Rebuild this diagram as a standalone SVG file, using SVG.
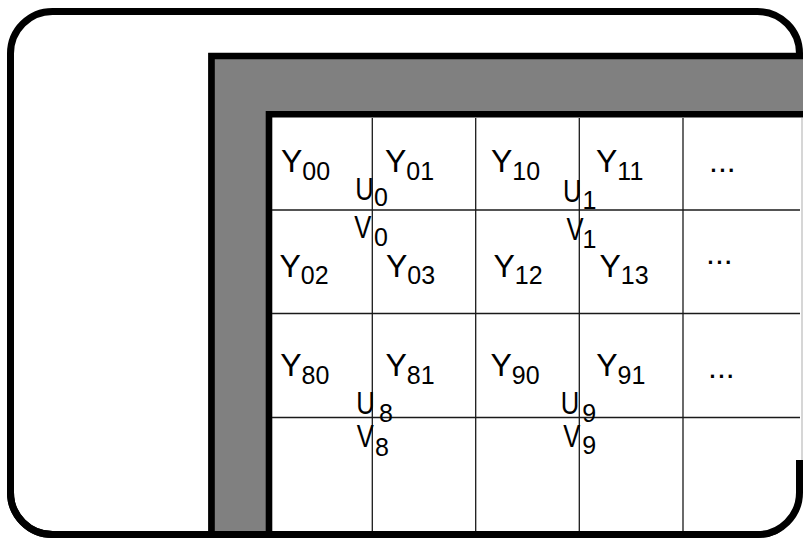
<svg xmlns="http://www.w3.org/2000/svg" width="803" height="538" viewBox="0 0 803 538">
<style>
.outer{fill:#fff;stroke:#000;stroke-width:7}
.edge{fill:none;stroke:#000;stroke-width:7}
.frame{fill:#808080}
.bk{stroke:#000;stroke-width:6.6;fill:none}
.grid{stroke:#1a1a1a;stroke-width:1.3;fill:none}
.t{font-family:"Liberation Sans",Arial,sans-serif;font-size:32px;fill:#000}
.s{font-size:25px}
.d{font-family:"Liberation Sans",Arial,sans-serif;font-size:32px;fill:#000}
</style>
<g id="outer-box"><rect class="outer" x="10.5" y="11.5" width="789" height="523" rx="42" ry="42"/></g>
<g id="frame">
<rect class="frame" x="208" y="53" width="595" height="478"/>
<rect x="269" y="114.3" width="534" height="417" fill="#fff"/>
<path class="bk" d="M211.5 531 V56 H803"/>
<path class="bk" d="M269 531 V114.3 H803"/>
<line x1="802" y1="118" x2="802" y2="470" stroke="#bbb" stroke-width="1.2"/>
</g>
<g id="connectors">
<line class="grid" x1="372.3" y1="118" x2="372.3" y2="532"/>
<line class="grid" x1="475.7" y1="118" x2="475.7" y2="532"/>
<line class="grid" x1="579.3" y1="118" x2="579.3" y2="532"/>
<line class="grid" x1="683" y1="118" x2="683" y2="532"/>
<line class="grid" x1="272" y1="210" x2="800" y2="210"/>
<line class="grid" x1="272" y1="313.5" x2="800" y2="313.5"/>
<line class="grid" x1="272" y1="417.5" x2="800" y2="417.5"/>
</g>
<g id="outer-edge"><path class="edge" d="M10.5 492.5 A42 42 0 0 0 52.5 534.5 H757.5 A42 42 0 0 0 799.5 492.5 V460"/></g>
<g id="Y00"><text class="t" x="281" y="171.5">Y<tspan class="s" dy="8.5">00</tspan></text></g>
<g id="Y01"><text class="t" x="385" y="171.5">Y<tspan class="s" dy="8.5">01</tspan></text></g>
<g id="Y10"><text class="t" x="491" y="171.5">Y<tspan class="s" dy="8.5">10</tspan></text></g>
<g id="Y11"><text class="t" x="596" y="171.5">Y<tspan class="s" dy="8.5">11</tspan></text></g>
<g id="dots1"><text class="d" x="709" y="171.7">...</text></g>
<g id="Y02"><text class="t" x="279.5" y="276.7">Y<tspan class="s" dy="7.5">02</tspan></text></g>
<g id="Y03"><text class="t" x="386" y="276.7">Y<tspan class="s" dy="7.5">03</tspan></text></g>
<g id="Y12"><text class="t" x="493.5" y="276.7">Y<tspan class="s" dy="7.5">12</tspan></text></g>
<g id="Y13"><text class="t" x="599.5" y="276.7">Y<tspan class="s" dy="7.5">13</tspan></text></g>
<g id="dots2"><text class="d" x="706" y="264">...</text></g>
<g id="Y80"><text class="t" x="280.2" y="376">Y<tspan class="s" dy="7.5">80</tspan></text></g>
<g id="Y81"><text class="t" x="385.5" y="376">Y<tspan class="s" dy="7.5">81</tspan></text></g>
<g id="Y90"><text class="t" x="490.5" y="376">Y<tspan class="s" dy="7.5">90</tspan></text></g>
<g id="Y91"><text class="t" x="596.2" y="376">Y<tspan class="s" dy="7.5">91</tspan></text></g>
<g id="dots3"><text class="d" x="708" y="378">...</text></g>
<g id="U0"><text class="t" transform="translate(355.3 200) scale(0.8 1)">U</text><text class="t s" x="374" y="206">0</text></g>
<g id="V0"><text class="t" transform="translate(354.3 238) scale(0.8 1)">V</text><text class="t s" x="374" y="246">0</text></g>
<g id="U1"><text class="t" transform="translate(563 201.7) scale(0.8 1)">U</text><text class="t s" x="582.5" y="209">1</text></g>
<g id="V1"><text class="t" transform="translate(566.5 240) scale(0.8 1)">V</text><text class="t s" x="582.5" y="248">1</text></g>
<g id="U8"><text class="t" transform="translate(356.3 414) scale(0.8 1)">U</text><text class="t s" x="379" y="421.5">8</text></g>
<g id="V8"><text class="t" transform="translate(356.7 446.7) scale(0.8 1)">V</text><text class="t s" x="375" y="456">8</text></g>
<g id="U9"><text class="t" transform="translate(560.7 414) scale(0.8 1)">U</text><text class="t s" x="582.3" y="421.5">9</text></g>
<g id="V9"><text class="t" transform="translate(563.3 446.7) scale(0.8 1)">V</text><text class="t s" x="582.3" y="454">9</text></g>
</svg>
